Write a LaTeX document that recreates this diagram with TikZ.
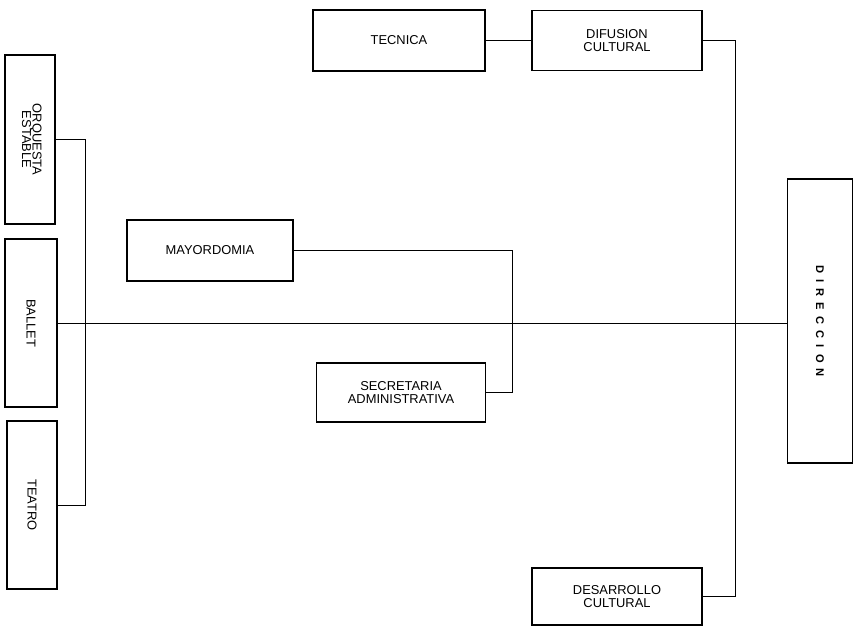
\documentclass[tikz,border=0pt]{standalone}
\usepackage{fontspec}
\setmainfont{Liberation Sans}
\usetikzlibrary{positioning}

\begin{document}
\begin{tikzpicture}[x=0.03cm,y=-0.03cm]
\tikzset{orgbox/.style={rectangle,draw,line width=1.5pt,inner sep=0pt,align=center,font=\fontsize{11}{11}\selectfont},
  orgline/.style={line width=0.8pt}}
\useasboundingbox (0,0) rectangle (860,628);
% columna izquierda
\node[orgbox,minimum width=1.5cm,minimum height=5.07cm](orq) at (30,139.5){\rotatebox{-90}{\begin{tabular}{@{}c@{}}ORQUESTA\\[-2pt]ESTABLE\end{tabular}}};
\node[orgbox,minimum width=1.56cm,minimum height=5.04cm](ballet) at (31,323){\rotatebox{-90}{BALLET}};
\node[orgbox,minimum width=1.5cm,minimum height=5.04cm](teatro) at (32,505){\rotatebox{-90}{TEATRO}};
\draw[orgline](orq.east) -- ++(30,0) |- (teatro.east);
% centro
\node[orgbox,minimum width=4.98cm,minimum height=1.83cm](mayordomia) at (210,250.5){MAYORDOMIA};
\node[orgbox,minimum width=5.07cm,minimum height=1.77cm](secretaria) at (401,392.5){SECRETARIA\\ADMINISTRATIVA};
\draw[orgline](mayordomia.east) -- ++(219,0) |- (secretaria.east);
% arriba y abajo
\node[orgbox,minimum width=5.16cm,minimum height=1.83cm](tecnica) at (399,40.5){TECNICA};
\node[orgbox,minimum width=5.1cm,minimum height=1.8cm](difusion) at (617,40.5){DIFUSION\\CULTURAL};
\node[orgbox,minimum width=5.1cm,minimum height=1.71cm](desarrollo) at (617,596.5){DESARROLLO\\CULTURAL};
\draw[orgline](tecnica) -- (difusion);
\draw[orgline](difusion.east) -- ++(33,0) |- (desarrollo.east);
% direccion
\node[orgbox,minimum width=1.95cm,minimum height=8.52cm](direccion) at (820,321){\rotatebox{-90}{\fontsize{9.5}{10}\selectfont\bfseries D\;\;I\;\;R\;\;E\;\;C\;\;C\;\;I\;\;O\;\;N}};
\draw[orgline](ballet.east) -- (ballet.east -| direccion.west);
\end{tikzpicture}
\end{document}
